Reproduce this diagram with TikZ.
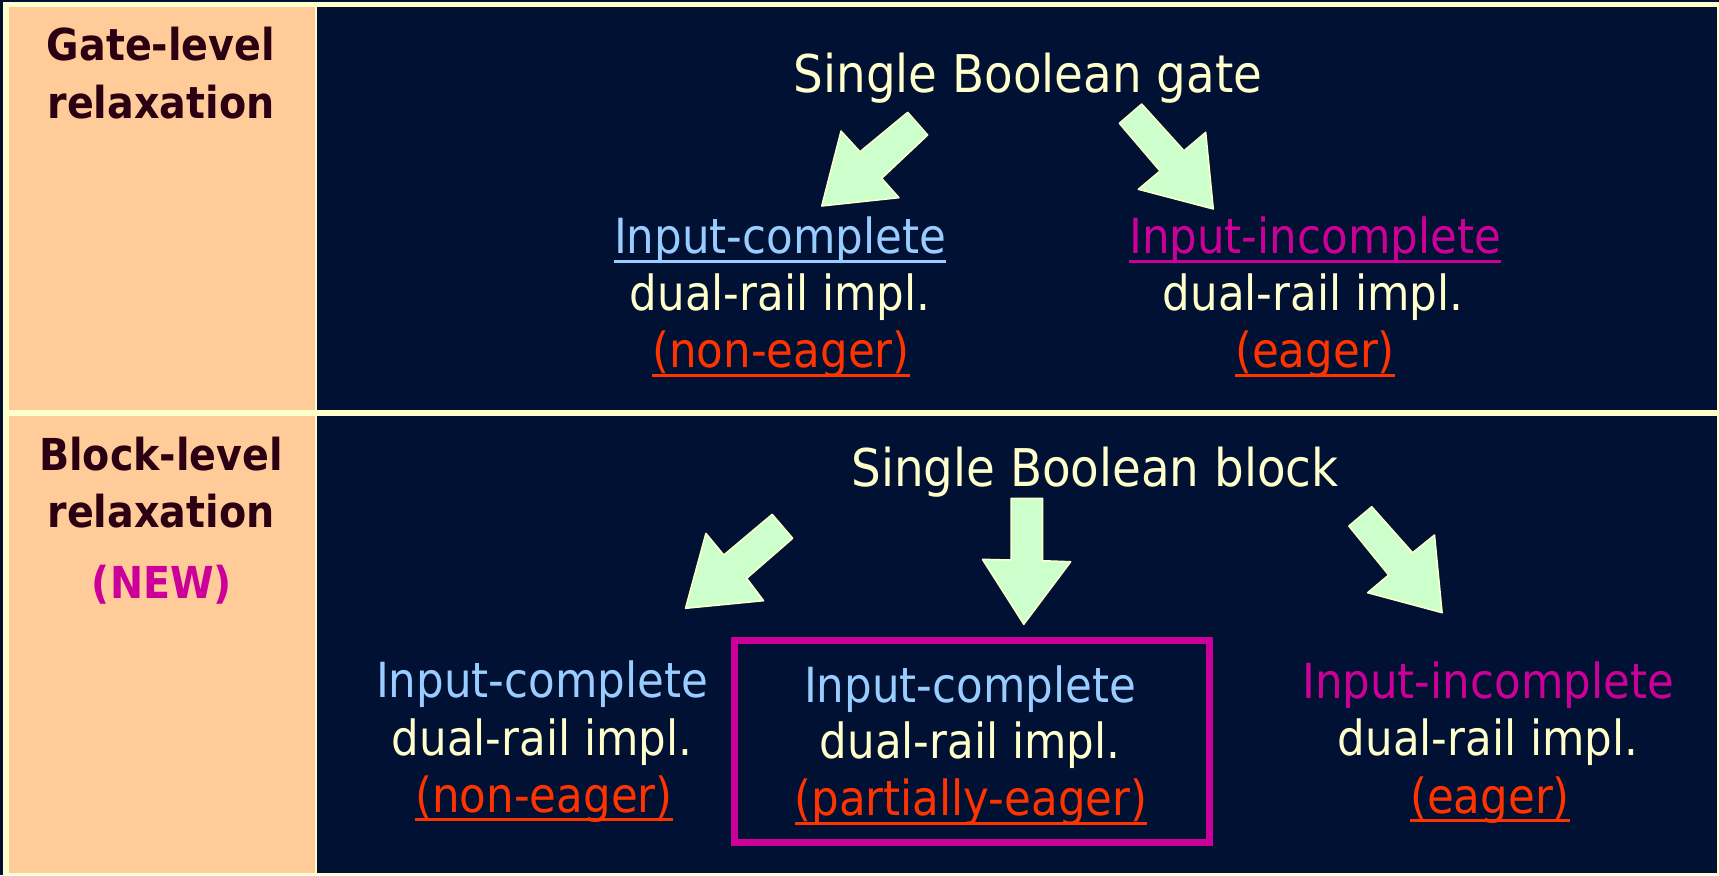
\documentclass[tikz,border=0pt]{standalone}
\usepackage{fontspec}
\setmainfont{DejaVu Sans}[FakeStretch=0.9]
\definecolor{navy}{HTML}{001133}
\definecolor{peach}{HTML}{FFCC99}
\definecolor{cream}{HTML}{FFFFCC}
\definecolor{mint}{HTML}{CCFFCC}
\definecolor{darktext}{HTML}{2A0012}
\definecolor{skyblue}{HTML}{99CCFF}
\definecolor{magenta}{HTML}{CC0099}
\definecolor{redorange}{HTML}{FF3300}
\begin{document}
\begin{tikzpicture}[x=0.5pt,y=-0.5pt,
  every node/.style={inner sep=0pt, outer sep=0pt, anchor=base},
  side/.style={font=\fontsize{22}{26}\selectfont\bfseries, text=darktext},
  head/.style={font=\fontsize{26}{30}\selectfont, text=cream},
  lbl/.style={font=\fontsize{24.2}{28}\selectfont, text=cream},
  ul/.style={line width=1.5pt},
  blockarrow/.style={fill=mint, draw=cream, line width=0.75pt, line join=round}]
\useasboundingbox (0,0) rectangle (1719,875);
% frame and panels
\fill[navy] (0,0) rectangle (1719,875);
\fill[cream] (3,1.5) rectangle (1719,875);
\fill[peach] (9,7) rectangle (315,410);
\fill[navy] (317,7) rectangle (1717,410);
\fill[peach] (9,416) rectangle (315,873);
\fill[navy] (317,416) rectangle (1717,873);

% side headings
\node[side] (g1) at (161,60) {Gate-level};
\node[side] (g2) at (161,118) {relaxation};
\node[side] (b1) at (161,470) {Block-level};
\node[side] (b2) at (161,527) {relaxation};
\node[side, text=magenta] (b3) at (162,598) {(NEW)};

% gate level
\node[head] (gate) at (1028,92) {Single Boolean gate};
\node[lbl, text=skyblue] (ga1) at (780,253) {Input-complete};
\node[lbl] (ga2) at (780,310) {dual-rail impl.};
\node[lbl, text=redorange] (ga3) at (781,367) {(non-eager)};
\node[lbl, text=magenta] (gb1) at (1315,253) {Input-incomplete};
\node[lbl] (gb2) at (1313,310) {dual-rail impl.};
\node[lbl, text=redorange] (gb3) at (1315,367) {(eager)};
\draw[ul, skyblue] ([yshift=-4pt]ga1.base west) -- ([yshift=-4pt]ga1.base east);
\draw[ul, redorange] ([yshift=-4pt]ga3.base west) -- ([yshift=-4pt]ga3.base east);
\draw[ul, magenta] ([yshift=-4pt]gb1.base west) -- ([yshift=-4pt]gb1.base east);
\draw[ul, redorange] ([yshift=-4pt]gb3.base west) -- ([yshift=-4pt]gb3.base east);

\draw[blockarrow] (821.7,206) -- (841,131) -- (860,151.7) -- (907.7,112.3)
  -- (927.7,135) -- (881.7,178.3) -- (899,197.7) -- cycle;
\draw[blockarrow] (1141.7,104) -- (1184,150.7) -- (1205.7,132.3) -- (1213.3,209)
  -- (1138.3,189.3) -- (1160,171) -- (1119.3,123.3) -- cycle;

% block level
\node[head] (block) at (1095,486) {Single Boolean block};
\node[lbl, text=skyblue] (ba1) at (542,697) {Input-complete};
\node[lbl] (ba2) at (542,755) {dual-rail impl.};
\node[lbl, text=redorange] (ba3) at (544,812) {(non-eager)};
\node[lbl, text=skyblue] (bb1) at (970,702) {Input-complete};
\node[lbl] (bb2) at (970,758) {dual-rail impl.};
\node[lbl, text=redorange] (bb3) at (971,815) {(partially-eager)};
\node[lbl, text=magenta] (bc1) at (1488,698) {Input-incomplete};
\node[lbl] (bc2) at (1488,755) {dual-rail impl.};
\node[lbl, text=redorange] (bc3) at (1490,813) {(eager)};
\draw[ul, redorange] ([yshift=-3.5pt]ba3.base west) -- ([yshift=-3.5pt]ba3.base east);
\draw[ul, redorange] ([yshift=-4pt]bb3.base west) -- ([yshift=-4pt]bb3.base east);
\draw[ul, redorange] ([yshift=-3.5pt]bc3.base west) -- ([yshift=-3.5pt]bc3.base east);

\draw[magenta, line width=3.75pt] (734.5,640.5) rectangle (1209.5,842.5);

\draw[blockarrow] (685.5,608.3) -- (705.9,533.3) -- (723.8,555) -- (772.2,514.3)
  -- (792.7,538.3) -- (746.7,578.3) -- (763.6,600.7) -- cycle;
\draw[blockarrow] (1011,498.3) -- (1042.7,498.3) -- (1042.7,560.7) -- (1070.7,561.7)
  -- (1023.8,624.3) -- (982.4,559.3) -- (1011,560) -- cycle;
\draw[blockarrow] (1371.7,506.7) -- (1412.6,552.7) -- (1434.5,535) -- (1442.1,612.7)
  -- (1367.6,592.7) -- (1388.6,575) -- (1348.8,526) -- cycle;
\end{tikzpicture}
\end{document}
